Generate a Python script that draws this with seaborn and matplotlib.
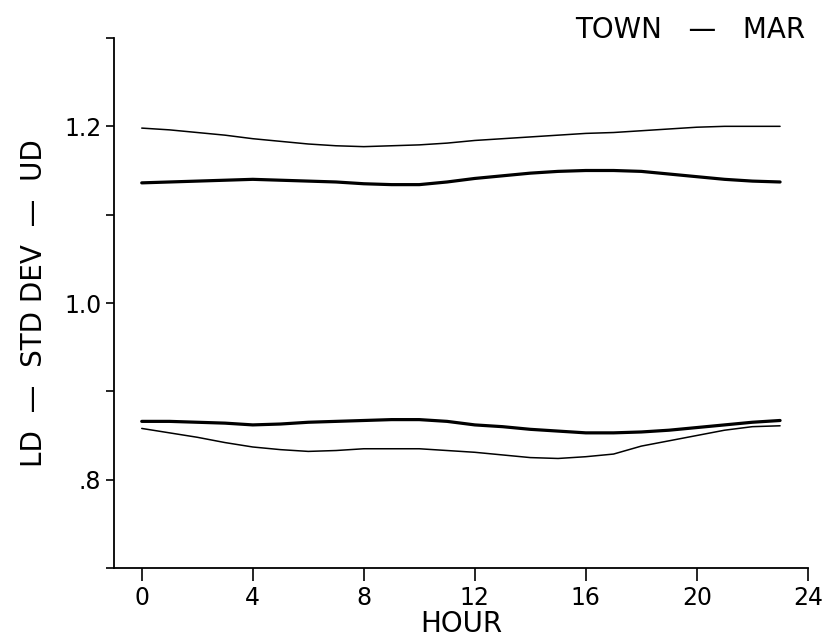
import pandas as pd
import seaborn as sns
import matplotlib.pyplot as plt
from matplotlib.ticker import FixedLocator

sns.set_theme(style="ticks")
plt.rcParams["font.family"] = ["DejaVu Sans"]

## --- Data
hours = list(range(24))

ud_thin = [1.198, 1.196, 1.193, 1.190, 1.186, 1.183, 1.180, 1.178, 1.177, 1.178,
           1.179, 1.181, 1.184, 1.186, 1.188, 1.190, 1.192, 1.193, 1.195, 1.197,
           1.199, 1.200, 1.200, 1.200]
ud_thick = [1.136, 1.137, 1.138, 1.139, 1.140, 1.139, 1.138, 1.137, 1.135, 1.134,
            1.134, 1.137, 1.141, 1.144, 1.147, 1.149, 1.150, 1.150, 1.149, 1.146,
            1.143, 1.140, 1.138, 1.137]
ld_thick = [0.866, 0.866, 0.865, 0.864, 0.862, 0.863, 0.865, 0.866, 0.867, 0.868,
            0.868, 0.866, 0.862, 0.860, 0.857, 0.855, 0.853, 0.853, 0.854, 0.856,
            0.859, 0.862, 0.865, 0.867]
ld_thin = [0.858, 0.853, 0.848, 0.842, 0.837, 0.834, 0.832, 0.833, 0.835, 0.835,
           0.835, 0.833, 0.831, 0.828, 0.825, 0.824, 0.826, 0.829, 0.838, 0.844,
           0.850, 0.856, 0.860, 0.861]

y_ticks = [0.8, 1.0, 1.2]
y_tick_labels = [".8", "1.0", "1.2"]
x_ticks = [0, 4, 8, 12, 16, 20, 24]
## ---

df = pd.DataFrame({"hour": hours, "ud_thin": ud_thin, "ud_thick": ud_thick,
                   "ld_thick": ld_thick, "ld_thin": ld_thin})

fig = plt.figure(figsize=(8.26, 6.44), dpi=100)
ax = fig.add_axes([0.138, 0.118, 0.840, 0.823])

for col, lw in [("ud_thin", 1.1), ("ud_thick", 2.3), ("ld_thick", 2.3), ("ld_thin", 1.1)]:
    sns.lineplot(data=df, x="hour", y=col, ax=ax, color="black", linewidth=lw)

ax.set_xlim(-1, 24)
ax.set_ylim(0.7, 1.3)
ax.xaxis.set_major_locator(FixedLocator(x_ticks))
ax.set_yticks(y_ticks)
ax.set_yticklabels(y_tick_labels)
ax.yaxis.set_minor_locator(FixedLocator([0.7, 0.9, 1.1, 1.3]))

sns.despine(ax=ax)
for s in ["left", "bottom"]:
    ax.spines[s].set_color("black")
    ax.spines[s].set_linewidth(1.3)
ax.tick_params(axis="both", which="both", direction="out", color="black",
               width=1.2, labelsize=17, labelcolor="black")
ax.tick_params(axis="x", length=9, pad=4)
ax.tick_params(axis="y", which="major", length=6, pad=3)
ax.tick_params(axis="y", which="minor", length=6)

ax.set_xlabel("HOUR", fontsize=20, labelpad=0, color="black")
ax.set_ylabel("LD  —  STD DEV  —  UD", fontsize=20, labelpad=12, color="black")
fig.text(0.975, 1 - 38 / 644, "TOWN   —   MAR", ha="right", va="baseline",
         fontsize=20, color="black")

fig.savefig("out.png", dpi=100)
